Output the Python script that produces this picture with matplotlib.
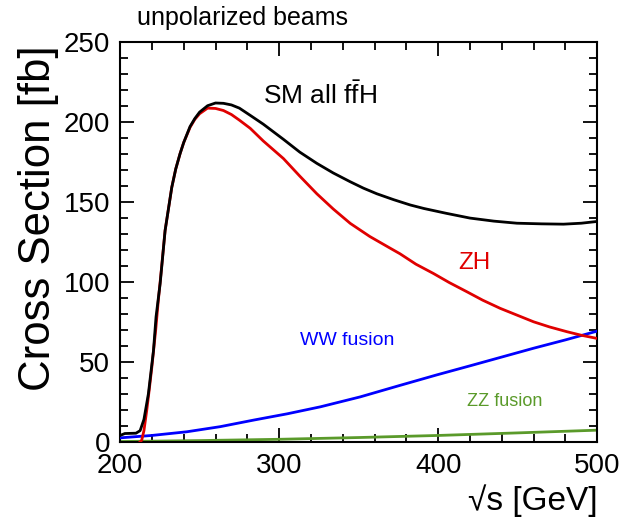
import matplotlib
matplotlib.use("Agg")
import matplotlib.pyplot as plt
from matplotlib.ticker import MultipleLocator

plt.rcParams.update({
    "font.family": ["Liberation Sans", "DejaVu Sans"],
    "mathtext.fontset": "custom",
    "mathtext.rm": "Liberation Sans",
})

# ---- data ----
sm_x = [200, 203, 210, 212.6, 215, 217.8, 221, 222.6, 225.2, 228.3, 232.5,
        235, 237.7, 240, 244, 247, 250, 255, 260, 265, 270, 275, 281.8, 290,
        302.7, 313, 323.7, 334, 344.7, 353, 361.4, 372, 382.4, 391, 405, 420,
        435, 449.5, 465, 478.8, 490, 500]
sm_y = [4, 5.2, 5.4, 7, 14, 30, 57, 78, 99, 132, 159, 170.5, 180, 187, 197,
        202, 206, 210, 211.7, 211.5, 210.5, 208.5, 204, 198.5, 189, 181, 174,
        168, 162.5, 158.5, 155, 151.3, 148, 145.8, 142.8, 139.8, 137.9, 136.6,
        136.2, 136, 136.6, 137.7]

zh_x = [212.6, 213.6, 215, 216.8, 218.5, 220, 222.4, 224, 226, 228.3, 232.5,
        235, 237.7, 240, 244, 247, 250, 255, 260, 265, 270, 275, 281.8, 290,
        302.7, 313, 323.7, 334, 344.7, 357, 369.8, 376, 386, 397, 407, 418,
        428, 439, 450, 460, 470, 481, 490, 500]
zh_y = [0, 1, 7, 20, 34, 47, 70, 88, 108, 132, 159, 170.5, 180, 187, 196.5,
        201.5, 205, 208.5, 208.3, 207, 204.5, 201, 195.9, 188, 177, 166, 155,
        145.5, 136.5, 128.3, 121, 117.5, 111, 105.2, 99.5, 93.8, 88.5, 83.4,
        79, 75, 71.8, 68.8, 66.6, 64.6]

ww_x = [200, 220, 242, 263, 284, 305, 326, 351, 375, 399, 420, 440, 460,
        480, 500]
ww_y = [2.5, 4, 6.3, 9.5, 13.6, 17.5, 21.9, 28.1, 35, 41.8, 47.5, 53, 58.5,
        63.7, 69.2]

zz_x = [200, 250, 300, 350, 400, 450, 500]
zz_y = [0.2, 0.8, 1.6, 2.7, 4.0, 5.6, 7.3]

RED = "#e00000"
BLUE = "#0000ff"
GREEN = "#5a9a2a"

fig = plt.figure(figsize=(6.32, 5.18), dpi=100)
ax = fig.add_axes([0.190, 0.147, 0.755, 0.7725])

ax.plot(zz_x, zz_y, color=GREEN, lw=2.0, zorder=2)
ax.plot(ww_x, ww_y, color=BLUE, lw=2.0, zorder=3)
ax.plot(zh_x, zh_y, color=RED, lw=2.0, zorder=4)
ax.plot(sm_x, sm_y, color="black", lw=2.0, zorder=5)

ax.set_xlim(200, 500)
ax.set_ylim(0, 250)
ax.xaxis.set_major_locator(MultipleLocator(100))
ax.xaxis.set_minor_locator(MultipleLocator(20))
ax.yaxis.set_major_locator(MultipleLocator(50))
ax.yaxis.set_minor_locator(MultipleLocator(10))
ax.tick_params(which="both", direction="in", top=True, right=True,
               width=1.3, labelsize=20)
ax.tick_params(which="major", length=10)
ax.tick_params(which="minor", length=6)
ax.tick_params(axis="x", pad=8)
ax.tick_params(axis="y", pad=7)
for s in ax.spines.values():
    s.set_linewidth(1.5)

ax.set_ylabel("Cross Section [fb]", fontsize=31.5)
ax.yaxis.set_label_coords(-0.128, 0.56)
ax.set_xlabel("\u221as [GeV]", fontsize=24, loc="right", labelpad=4)

fig.text(0.217, 0.965, "unpolarized beams", fontsize=18, ha="left",
         va="center")
ax.text(290, 217, r"SM all f$\bar{\mathrm{f}}$H", fontsize=19, ha="left",
        va="center")
ax.text(412.5, 112, "ZH", fontsize=17.5, color=RED, ha="left", va="center")
ax.text(313, 63.6, "WW fusion", fontsize=14, color=BLUE, ha="left",
        va="center")
ax.text(418, 25.4, "ZZ fusion", fontsize=13, color=GREEN, ha="left",
        va="center")

fig.savefig("out.png", dpi=100, facecolor="white")
